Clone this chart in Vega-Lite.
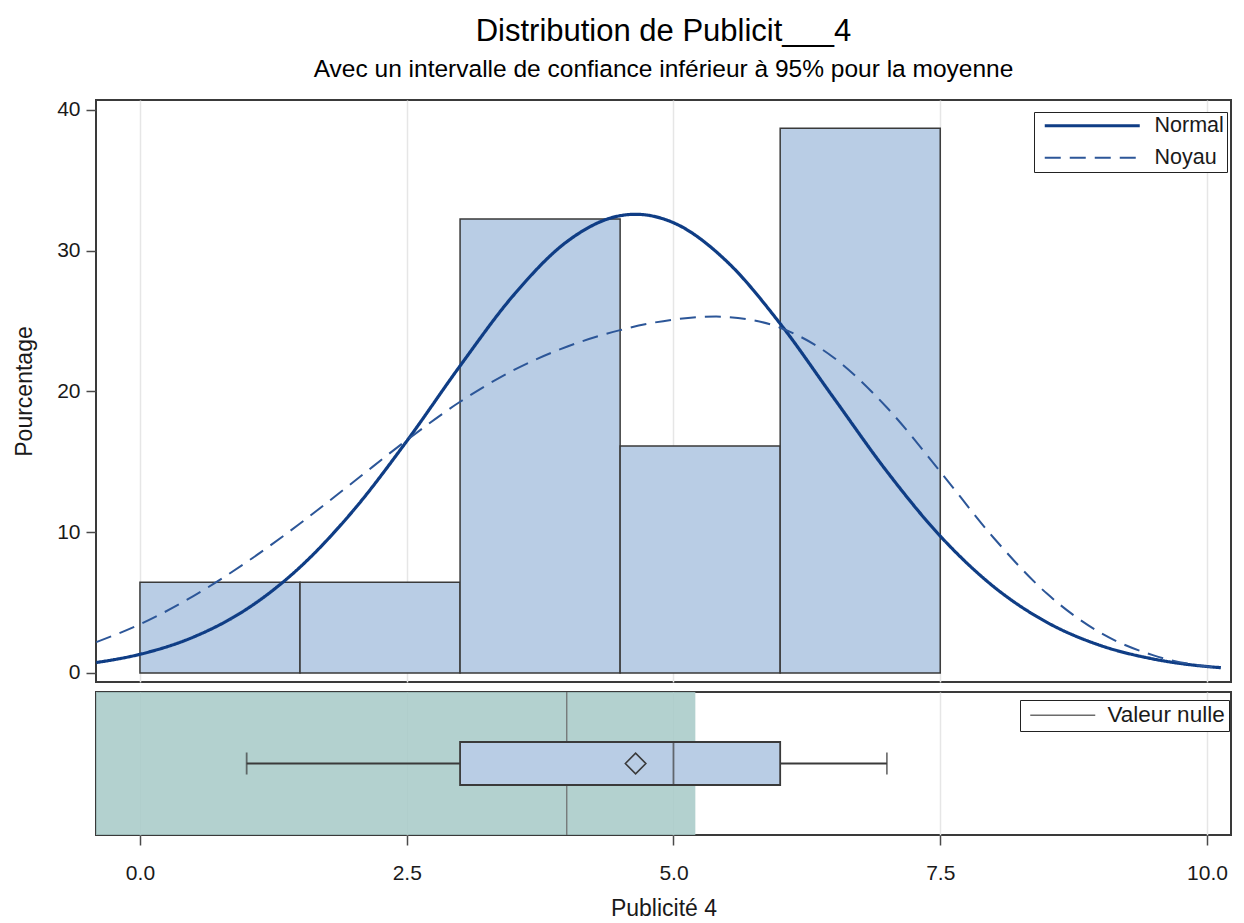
{
  "$schema": "https://vega.github.io/schema/vega-lite/v6.json",
  "padding": {"left": 12, "top": 16, "right": 5, "bottom": 5},
  "background": "white",
  "title": {
    "text": "Distribution de Publicit___4",
    "subtitle": "Avec un intervalle de confiance inférieur à 95% pour la moyenne",
    "anchor": "middle",
    "frame": "group",
    "font": "Liberation Sans",
    "fontSize": 31,
    "fontWeight": "normal",
    "color": "#000000",
    "subtitleFont": "Liberation Sans",
    "subtitleFontSize": 24.5,
    "subtitleColor": "#000000",
    "subtitlePadding": 10,
    "offset": 15
  },
  "datasets": {
    "bins": [
      {"lo": 0, "hi": 1.5, "pct": 6.45},
      {"lo": 1.5, "hi": 3, "pct": 6.45},
      {"lo": 3, "hi": 4.5, "pct": 32.26},
      {"lo": 4.5, "hi": 6, "pct": 16.13},
      {"lo": 6, "hi": 7.5, "pct": 38.71}
    ],
    "curves": [
      {"curve": "Normal", "x": -0.41, "pct": 0.74},
      {"curve": "Normal", "x": 0, "pct": 1.33},
      {"curve": "Normal", "x": 0.5, "pct": 2.55},
      {"curve": "Normal", "x": 1, "pct": 4.54},
      {"curve": "Normal", "x": 1.5, "pct": 7.52},
      {"curve": "Normal", "x": 2, "pct": 11.55},
      {"curve": "Normal", "x": 2.5, "pct": 16.47},
      {"curve": "Normal", "x": 3, "pct": 21.82},
      {"curve": "Normal", "x": 3.5, "pct": 26.83},
      {"curve": "Normal", "x": 4, "pct": 30.64},
      {"curve": "Normal", "x": 4.5, "pct": 32.49},
      {"curve": "Normal", "x": 4.645, "pct": 32.59},
      {"curve": "Normal", "x": 5, "pct": 31.99},
      {"curve": "Normal", "x": 5.5, "pct": 29.24},
      {"curve": "Normal", "x": 6, "pct": 24.82},
      {"curve": "Normal", "x": 6.5, "pct": 19.56},
      {"curve": "Normal", "x": 7, "pct": 14.32},
      {"curve": "Normal", "x": 7.5, "pct": 9.73},
      {"curve": "Normal", "x": 8, "pct": 6.14},
      {"curve": "Normal", "x": 8.5, "pct": 3.6},
      {"curve": "Normal", "x": 9, "pct": 1.96},
      {"curve": "Normal", "x": 9.5, "pct": 0.99},
      {"curve": "Normal", "x": 10, "pct": 0.46},
      {"curve": "Normal", "x": 10.13, "pct": 0.38},
      {"curve": "Noyau", "x": -0.41, "pct": 2.19},
      {"curve": "Noyau", "x": 0, "pct": 3.46},
      {"curve": "Noyau", "x": 0.5, "pct": 5.46},
      {"curve": "Noyau", "x": 1, "pct": 7.88},
      {"curve": "Noyau", "x": 1.5, "pct": 10.62},
      {"curve": "Noyau", "x": 2, "pct": 13.57},
      {"curve": "Noyau", "x": 2.5, "pct": 16.54},
      {"curve": "Noyau", "x": 3, "pct": 19.27},
      {"curve": "Noyau", "x": 3.5, "pct": 21.51},
      {"curve": "Noyau", "x": 4, "pct": 23.18},
      {"curve": "Noyau", "x": 4.5, "pct": 24.36},
      {"curve": "Noyau", "x": 5, "pct": 25.11},
      {"curve": "Noyau", "x": 5.4, "pct": 25.32},
      {"curve": "Noyau", "x": 5.5, "pct": 25.29},
      {"curve": "Noyau", "x": 6, "pct": 24.53},
      {"curve": "Noyau", "x": 6.5, "pct": 22.42},
      {"curve": "Noyau", "x": 7, "pct": 18.86},
      {"curve": "Noyau", "x": 7.5, "pct": 14.31},
      {"curve": "Noyau", "x": 8, "pct": 9.61},
      {"curve": "Noyau", "x": 8.5, "pct": 5.64},
      {"curve": "Noyau", "x": 9, "pct": 2.86},
      {"curve": "Noyau", "x": 9.5, "pct": 1.25},
      {"curve": "Noyau", "x": 10, "pct": 0.46},
      {"curve": "Noyau", "x": 10.13, "pct": 0.35}
    ],
    "box": [
      {"var": "Publicité 4", "min": 1, "q1": 3, "median": 5, "q3": 6, "max": 7, "mean": 4.645, "ci_low": -1, "ci_high": 5.205, "null_value": 4}
    ]
  },
  "vconcat": [
    {
      "width": 1135,
      "height": 582,
      "layer": [
        {
          "data": {"name": "bins"},
          "mark": {"type": "rect", "fill": "#B9CDE5", "stroke": "#3a3a3a", "strokeWidth": 1.5},
          "encoding": {
            "x": {
              "field": "lo", "type": "quantitative",
              "scale": {"domain": [-0.412, 10.225], "nice": false, "zero": false},
              "axis": {"values": [0, 2.5, 5, 7.5, 10], "labels": false, "ticks": false, "domain": false, "title": null, "grid": true}
            },
            "x2": {"field": "hi"},
            "y": {
              "field": "pct", "type": "quantitative",
              "scale": {"domain": [-0.64, 40.71], "nice": false, "zero": false},
              "axis": {"values": [0, 10, 20, 30, 40], "title": "Pourcentage", "grid": false, "labelFontSize": 21, "labelPadding": 6, "titleFontSize": 23, "titlePadding": 20}
            },
            "y2": {"datum": 0}
          }
        },
        {
          "data": {"name": "curves"},
          "mark": {"type": "line", "interpolate": "monotone", "clip": true},
          "encoding": {
            "x": {"field": "x", "type": "quantitative"},
            "y": {"field": "pct", "type": "quantitative"},
            "color": {
              "field": "curve", "type": "nominal",
              "scale": {"domain": ["Normal", "Noyau"], "range": ["#0F3D85", "#2C5698"]},
              "legend": {
                "orient": "none", "legendX": 938, "legendY": 12, "title": null,
                "symbolType": "M-0.6,0H18.4", "symbolSize": 100, "labelOffset": 96,
                "labelFontSize": 21.5, "padding": 3, "rowPadding": 9,
                "strokeColor": "#222222", "fillColor": "white",
                "encode": {
                  "symbols": {
                    "update": {
                      "strokeDash": {"signal": "datum.value === 'Noyau' ? [16, 9] : [1, 0]"},
                      "strokeWidth": {"signal": "datum.value === 'Noyau' ? 2 : 3.2"}
                    }
                  }
                }
              }
            },
            "strokeDash": {
              "field": "curve", "type": "nominal",
              "scale": {"domain": ["Normal", "Noyau"], "range": [[1, 0], [16, 9]]},
              "legend": null
            },
            "strokeWidth": {
              "field": "curve", "type": "nominal",
              "scale": {"domain": ["Normal", "Noyau"], "range": [3.2, 2]},
              "legend": null
            }
          }
        }
      ]
    },
    {
      "width": 1135,
      "height": 143,
      "data": {"name": "box"},
      "layer": [
        {
          "mark": {"type": "rect", "fill": "#A9CBC8", "opacity": 0.88, "clip": true},
          "encoding": {
            "x": {
              "field": "ci_low", "type": "quantitative",
              "scale": {"domain": [-0.412, 10.225], "nice": false, "zero": false},
              "axis": {"values": [0, 2.5, 5, 7.5, 10], "format": ".1f", "title": "Publicité 4", "grid": true, "labelFontSize": 21, "labelPadding": 17, "titleFontSize": 23, "titlePadding": 14}
            },
            "x2": {"field": "ci_high"}
          }
        },
        {
          "mark": {"type": "rule", "strokeWidth": 1.2},
          "encoding": {
            "x": {"field": "null_value", "type": "quantitative"},
            "color": {
              "datum": "Valeur nulle", "type": "nominal",
              "scale": {"range": ["#6b6b6b"]},
              "legend": {
                "orient": "none", "legendX": 924, "legendY": 8, "title": null,
                "symbolType": "M-1,0H12", "symbolSize": 100, "symbolStrokeWidth": 1.5,
                "labelOffset": 61, "labelFontSize": 22.5, "padding": 4,
                "strokeColor": "#222222", "fillColor": "white"
              }
            }
          }
        },
        {
          "mark": {"type": "rule", "color": "#3a3a3a", "strokeWidth": 1.8},
          "encoding": {
            "y": {"field": "var", "type": "nominal", "axis": null, "scale": {"paddingInner": 0, "paddingOuter": 0}},
            "x": {"field": "min", "type": "quantitative"},
            "x2": {"field": "q1"}
          }
        },
        {
          "mark": {"type": "rule", "color": "#3a3a3a", "strokeWidth": 1.8},
          "encoding": {
            "y": {"field": "var", "type": "nominal", "axis": null},
            "x": {"field": "q3", "type": "quantitative"},
            "x2": {"field": "max"}
          }
        },
        {
          "mark": {"type": "tick", "color": "#3a3a3a", "orient": "vertical", "size": 22, "thickness": 1.8},
          "encoding": {
            "y": {"field": "var", "type": "nominal", "axis": null},
            "x": {"field": "min", "type": "quantitative"}
          }
        },
        {
          "mark": {"type": "tick", "color": "#3a3a3a", "orient": "vertical", "size": 22, "thickness": 1.8},
          "encoding": {
            "y": {"field": "var", "type": "nominal", "axis": null},
            "x": {"field": "max", "type": "quantitative"}
          }
        },
        {
          "mark": {"type": "bar", "fill": "#B9CDE5", "stroke": "#3a3a3a", "strokeWidth": 1.8, "size": 43},
          "encoding": {
            "y": {"field": "var", "type": "nominal", "axis": null},
            "x": {"field": "q1", "type": "quantitative"},
            "x2": {"field": "q3"}
          }
        },
        {
          "mark": {"type": "tick", "color": "#3a3a3a", "orient": "vertical", "size": 43, "thickness": 1.8},
          "encoding": {
            "y": {"field": "var", "type": "nominal", "axis": null},
            "x": {"field": "median", "type": "quantitative"}
          }
        },
        {
          "mark": {"type": "point", "shape": "diamond", "filled": false, "size": 420, "stroke": "#3a3a3a", "strokeWidth": 1.6, "opacity": 1},
          "encoding": {
            "y": {"field": "var", "type": "nominal", "axis": null},
            "x": {"field": "mean", "type": "quantitative"}
          }
        }
      ]
    }
  ],
  "spacing": 6,
  "resolve": {"scale": {"color": "independent", "y": "independent"}},
  "config": {
    "font": "Liberation Sans",
    "view": {"stroke": "#3a3a3a", "strokeWidth": 2},
    "axis": {
      "labelFont": "Liberation Sans",
      "titleFont": "Liberation Sans",
      "labelColor": "#1a1a1a",
      "titleColor": "#1a1a1a",
      "titleFontWeight": "normal",
      "domain": false,
      "tickColor": "#4a4a4a",
      "tickWidth": 1.5,
      "tickSize": 10,
      "gridColor": "#E6E6E6",
      "gridWidth": 1.5
    },
    "legend": {"labelFont": "Liberation Sans", "labelColor": "#1a1a1a"}
  }
}
